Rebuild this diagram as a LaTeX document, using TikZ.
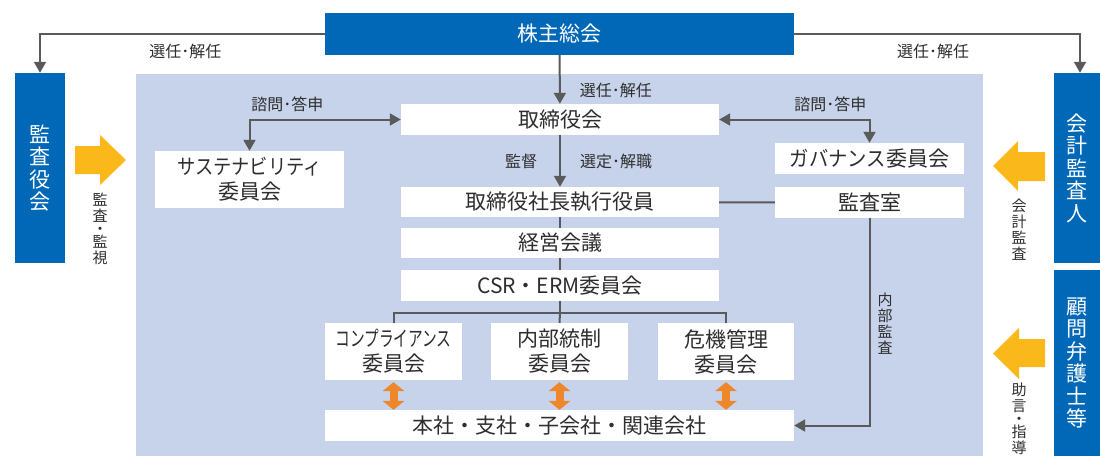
\documentclass[tikz,border=0pt]{standalone}
\usepackage{graphicx}
\usepackage{fontspec}
\setmainfont{Noto Sans CJK JP}
\usetikzlibrary{arrows.meta,positioning}
\definecolor{kblue}{HTML}{0068B7}
\definecolor{paleblue}{HTML}{C7D3EA}
\definecolor{ygold}{HTML}{FBB81B}
\definecolor{oarrow}{HTML}{EE862A}
\definecolor{lgray}{HTML}{5A5A5A}
\definecolor{tgray}{HTML}{2E2E2E}
\begin{document}
\begin{tikzpicture}[x=1pt,y=-1pt,
    box/.style={rectangle,draw=none,fill=white,inner sep=0pt,text=tgray,align=center,font=\fontsize{21}{25}\selectfont},
    side/.style={rectangle,draw=none,fill=kblue,inner sep=0pt,text=white,align=center,font=\fontsize{21}{22.5}\selectfont},
    lab/.style={inner sep=0pt,text=tgray,align=center,font=\fontsize{16}{16}\selectfont},
    vlab/.style={lab,font=\fontsize{15}{16}\selectfont},
    conn/.style={line width=2pt,draw=lgray},
    arr/.style={conn,-{Triangle[length=11pt,width=12pt]}},
    dbl/.style={conn,{Triangle[length=11pt,width=12pt]}-{Triangle[length=11pt,width=12pt]}},
    both/.style={line width=8pt,draw=oarrow,{Triangle[length=9pt,width=22pt,line width=0pt]}-{Triangle[length=9pt,width=22pt,line width=0pt]}},
    fat/.style={fill=ygold}]
    \useasboundingbox (0,0) rectangle (1100,456);
    \fill [paleblue] (136,74) rectangle (983,456);
    \node (agm)    at (559.5,34)    [side,minimum width=469pt,minimum height=42pt] {株主総会};
    \node (kansa)  at (40,168)      [side,minimum width=50pt,minimum height=190pt] {監\\査\\役\\会};
    \node (cpa)    at (1077,168)    [side,minimum width=46pt,minimum height=190pt] {会\\計\\監\\査\\人};
    \node (bengo)  at (1077,363)    [side,minimum width=46pt,minimum height=186pt] {顧\\問\\弁\\護\\士\\等};
    \node (board)  at (560,119.5)   [box,minimum width=318pt,minimum height=31pt] {取締役会};
    \node (ceo)    at (560,202)     [box,minimum width=318pt,minimum height=30pt] {取締役社長執行役員};
    \node (mgmt)   at (560,243)     [box,minimum width=318pt,minimum height=30pt] {経営会議};
    \node (csr)    at (560,285.5)   [box,minimum width=318pt,minimum height=31pt] {CSR・ERM委員会};
    \node (sust)   at (249.5,179.5) [box,minimum width=189pt,minimum height=57pt] {\scalebox{0.87}[1]{サステナビリティ}\\委員会};
    \node (gov)    at (869.5,158.5) [box,minimum width=189pt,minimum height=31pt] {\scalebox{0.92}[1]{ガバナンス}委員会};
    \node (audit)  at (869.5,202.5) [box,minimum width=189pt,minimum height=31pt] {監査室};
    \node (compl)  at (393.5,351.5) [box,minimum width=137pt,minimum height=57pt] {\scalebox{0.7}[1]{コンプライアンス}\\委員会};
    \node (ctrl)   at (559.5,351.5) [box,minimum width=137pt,minimum height=57pt] {内部統制\\委員会};
    \node (risk)   at (726,351.5)   [box,minimum width=136pt,minimum height=57pt] {危機管理\\委員会};
    \node (honsha) at (559.5,425.5) [box,minimum width=469pt,minimum height=31pt] {本社・支社・子会社・関連会社};
    \coordinate (split) at (560,313);
    \fill [fat] (75,146) -- (100,146) -- (100,135) -- (126,160) -- (100,185) -- (100,174) -- (75,174) -- cycle;
    \fill [fat] (1045,152) -- (1018,152) -- (1018,141) -- (993,166) -- (1018,191) -- (1018,181) -- (1045,181) -- cycle;
    \fill [fat] (1045,339) -- (1019,339) -- (1019,328) -- (993,353.5) -- (1019,379) -- (1019,367) -- (1045,367) -- cycle;
    \node (lkansa) at (100,229) [vlab] {監\\査\\[-3pt]・\\[-3pt]監\\視};
    \node (lcpa)   at (1019,230) [vlab] {会\\計\\監\\査};
    \node (lbengo) at (1019,419) [vlab] {助\\言\\[-3pt]・\\[-3pt]指\\導};
    \draw [arr] (agm.west) -| (kansa.north)
    node (lsel1) [lab,below=9pt,pos=0.245] {選任･解任};
    \draw [arr] (agm.east) -| ([xshift=3pt]cpa.north)
    node (lsel2) [lab,below=9pt,pos=0.243] {選任･解任};
    \draw [arr] (agm) -- (board)
    node (lsel3) [lab,right=19pt,pos=0.73] {選任･解任};
    \draw [arr] (board) -- (ceo)
    node (lsup) [lab,left=22pt,pos=0.5] {監督}
    node (lappt) [lab,right=19pt,pos=0.5] {選定･解職};
    \draw [dbl] (board.west) -| (sust.north)
    node (lconsl) [lab,above=7pt,pos=0.375] {諮問･答申};
    \draw [dbl] (board.east) -| (gov.north)
    node (lconsr) [lab,above=7pt,pos=0.37] {諮問･答申};
    \draw [conn] (ceo) -- (mgmt);
    \draw [conn] (mgmt) -- (csr);
    \draw [conn] (csr) -- (split);
    \draw [conn] (split) -| (compl.north);
    \draw [conn] (split) -- (ctrl.north);
    \draw [conn] (split) -| (risk.north);
    \draw [conn] (ceo) -- (audit);
    \draw [arr] (audit.south) |- (honsha.east)
    node (linner) [vlab,right=7pt,pos=0.254] {内\\部\\監\\査};
    \draw [both] ([yshift=-2pt]compl.south) -- (compl.south |- honsha.north);
    \draw [both] ([yshift=-2pt]ctrl.south) -- (ctrl.south |- honsha.north);
    \draw [both] ([yshift=-2pt]risk.south) -- (risk.south |- honsha.north);
\end{tikzpicture}
\end{document}
